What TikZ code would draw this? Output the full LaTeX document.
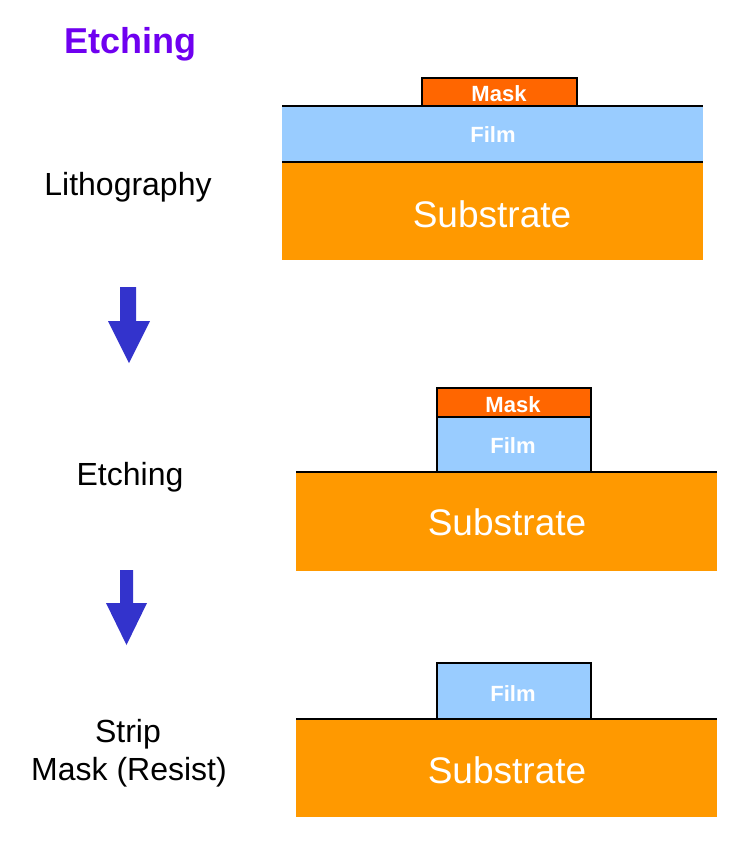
\documentclass[tikz,border=0pt]{standalone}
\usepackage{fontspec}
\setmainfont{Liberation Sans}
\definecolor{substr}{HTML}{FF9900}
\definecolor{filmc}{HTML}{99CCFF}
\definecolor{maskc}{HTML}{FF6600}
\definecolor{arrowc}{HTML}{3333CC}
\definecolor{titlec}{HTML}{6F00F0}
\tikzset{
  layer/.style={white,anchor=base,font=\fontsize{22}{24}\selectfont\bfseries},
  sublabel/.style={white,anchor=base,font=\fontsize{37}{40}\selectfont},
  steplabel/.style={black,anchor=base,align=center,font=\fontsize{32}{38}\selectfont},
  edge/.style={black,line width=1.4pt}
}
\begin{document}
\begin{tikzpicture}[x=1pt,y=-1pt]
  \useasboundingbox (0,0) rectangle (749,854);
  % title
  \node[anchor=base,text=titlec,font=\fontsize{36}{40}\selectfont\bfseries] (title) at (130,53) {Etching};
  % step 1: lithography
  \fill[substr] (282,162) rectangle (703,260);
  \fill[filmc] (282,106) rectangle (703,162);
  \fill[maskc] (422,78) rectangle (577,106);
  \draw[edge] (282,162) -- (703,162);
  \draw[edge] (282,106) -- (703,106);
  \draw[edge] (422,106) -- (422,78) -- (577,78) -- (577,106);
  \node[layer] (mask1) at (499,101) {Mask};
  \node[layer] (film1) at (493,142) {Film};
  \node[sublabel] (sub1) at (492,227) {Substrate};
  \node[steplabel] (litho) at (128,195) {Lithography};
  % arrow 1
  \fill[arrowc] (120,287) -- (136,287) -- (136,321) -- (150,321) -- (129,363)
    -- (108,321) -- (120,321) -- cycle;
  % step 2: etching
  \fill[substr] (296,472) rectangle (717,571);
  \fill[filmc] (437,417) rectangle (591,472);
  \fill[maskc] (437,388) rectangle (591,417);
  \draw[edge] (296,472) -- (717,472);
  \draw[edge] (437,472) -- (437,388) -- (591,388) -- (591,472);
  \draw[edge] (437,417) -- (591,417);
  \node[layer] (mask2) at (513,412) {Mask};
  \node[layer] (film2) at (513,453) {Film};
  \node[sublabel] (sub2) at (507,535) {Substrate};
  \node[steplabel] (etch) at (130,485) {Etching};
  % arrow 2
  \fill[arrowc] (120,570) -- (133,570) -- (133,603) -- (147,603) -- (126.5,645)
    -- (106,603) -- (120,603) -- cycle;
  % step 3: strip mask
  \fill[substr] (296,719) rectangle (717,817);
  \fill[filmc] (437,663) rectangle (591,719);
  \draw[edge] (296,719) -- (717,719);
  \draw[edge] (437,719) -- (437,663) -- (591,663) -- (591,719);
  \node[layer] (film3) at (513,701) {Film};
  \node[sublabel] (sub3) at (507,783) {Substrate};
  \node[steplabel] (strip) at (128,742) {Strip};
  \node[steplabel] (resist) at (129,780) {Mask (Resist)};
\end{tikzpicture}
\end{document}
